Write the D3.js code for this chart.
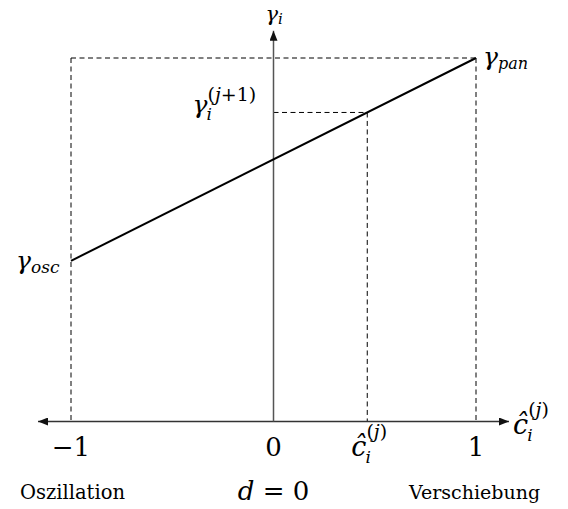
<!DOCTYPE html>
<html>
<head>
<meta charset="utf-8">
<script src="https://cdn.jsdelivr.net/npm/d3@7"></script>
<style>
  html, body { margin: 0; padding: 0; background: #fff; }
  svg { display: block; }
</style>
</head>
<body>
<svg id="chart" width="568" height="509"></svg>
<script>
// Normalised shift value on the horizontal axis
const xTicks = [-1, 0, 1];
const xTickLabels = ["\u22121", "0", "1"];
const xAxisExtent = [-1.163, 1.163];

// Linear rule for gamma: value at -1 (oscillation) and +1 (panning)
const gammaOsc = 0.442;
const gammaPan = 1.0;
const yAxisTop = 1.075;

// Current estimate and resulting gamma
const cHat = 0.463;

const FONT = "DejaVu Serif";

const svg = d3.select("#chart")
  .attr("font-family", FONT);
const x = d3.scaleLinear().domain([-1, 1]).range([71, 476]);
const y = d3.scaleLinear().domain([0, 1]).range([421.5, 58]);

const gammaAt = c => gammaOsc + (gammaPan - gammaOsc) * (c + 1) / 2;
const gammaNext = gammaAt(cHat);

function txt(parent, px, py, size, italic) {
  return parent.append("text")
    .attr("x", px).attr("y", py)
    .attr("font-family", FONT)
    .attr("font-size", size)
    .attr("font-style", italic ? "italic" : "normal")
    .attr("fill", "#000");
}

// arrow markers
const defs = svg.append("defs");
defs.append("marker")
  .attr("id", "arr")
  .attr("viewBox", "0 0 10 8")
  .attr("refX", 10).attr("refY", 4)
  .attr("markerWidth", 10).attr("markerHeight", 8)
  .attr("markerUnits", "userSpaceOnUse")
  .attr("orient", "auto-start-reverse")
  .append("path").attr("d", "M0,0 L10,4 L0,8 Z").attr("fill", "#111");

const dash = "5,3.5";
function dashed(x1, y1, x2, y2) {
  svg.append("line")
    .attr("x1", x1).attr("y1", y1).attr("x2", x2).attr("y2", y2)
    .attr("stroke", "#000").attr("stroke-width", 1).attr("stroke-dasharray", dash);
}

// dashed frame: top edge and the two sides at -1 and +1
dashed(x(-1), y(gammaPan), x(1), y(gammaPan));
xTicks.filter(v => v !== 0).forEach(v => dashed(x(v), y(gammaPan), x(v), y(0)));

// guides for the current estimate
dashed(x(0), y(gammaNext), x(cHat), y(gammaNext));
dashed(x(cHat), y(gammaNext), x(cHat), y(0));

// axes
svg.append("line")
  .attr("x1", x(xAxisExtent[0])).attr("x2", x(xAxisExtent[1]))
  .attr("y1", y(0)).attr("y2", y(0))
  .attr("stroke", "#333").attr("stroke-width", 1.5)
  .attr("marker-start", "url(#arr)").attr("marker-end", "url(#arr)");
svg.append("line")
  .attr("x1", x(0)).attr("x2", x(0))
  .attr("y1", y(0)).attr("y2", y(yAxisTop))
  .attr("stroke", "#555").attr("stroke-width", 1.5)
  .attr("marker-end", "url(#arr)");

// gamma rule
const line = d3.line().x(d => x(d)).y(d => y(gammaAt(d)));
svg.append("path")
  .datum([-1, 1])
  .attr("d", line)
  .attr("fill", "none").attr("stroke", "#000").attr("stroke-width", 2);

// composite math label: base, optional subscript and superscript
function mathLabel(px, py, base, sub, sup, opts = {}) {
  const g = svg.append("g");
  const t = txt(g, px, py, opts.size || 25, true).text(base);
  const w = t.node().getComputedTextLength() + (opts.gap || 0);
  if (sup) {
    const s = txt(g, px + w, py - (opts.supRise || 11), opts.supSize || 19, false);
    sup.forEach(([str, italic]) => s.append("tspan")
      .attr("font-style", italic ? "italic" : "normal").text(str));
  }
  if (sub) {
    txt(g, px + w - (opts.subShift || 0), py + (opts.subDrop || 5), opts.subSize || 17, true).text(sub);
  }
  return g;
}

const supJ = [["(", false], ["j", true], [")", false]];
const supJ1 = [["(", false], ["j", true], ["+1)", false]];

// axis titles
mathLabel(x(0) - 8, 21, "\u03b3", "i", null, { size: 21, subDrop: 3, subSize: 15 });
mathLabel(x(xAxisExtent[1]) + 4, y(0) + 12, "\u0109", "i", supJ, { size: 27, supRise: 18, subDrop: 7, subShift: 1 });

// end-point and current-value labels
mathLabel(x(1) + 7, y(gammaPan) + 7, "\u03b3", "pan", null, { subDrop: 4, subSize: 16 });
mathLabel(x(-1) - 55, y(gammaAt(-1)) + 8, "\u03b3", "osc", null, { subDrop: 4 });
mathLabel(x(0) - 81, y(gammaNext) + 1, "\u03b3", "i", supJ1, { supRise: 12, subDrop: 7, subShift: 1 });

// tick labels
svg.selectAll("text.tick")
  .data(xTicks)
  .join("text")
  .attr("class", "tick")
  .attr("x", d => x(d))
  .attr("y", 456)
  .attr("text-anchor", "middle")
  .attr("font-family", FONT)
  .attr("font-size", 26)
  .text((d, i) => xTickLabels[i]);
mathLabel(x(cHat) - 16, 456, "\u0109", "i", supJ, { size: 27, supRise: 18, subDrop: 7, subShift: 1 });

// regime captions
txt(svg, 20, 499, 19.5, false).text("Oszillation");
txt(svg, 409, 499, 19, false).text("Verschiebung");
const dl = txt(svg, x(0), 500, 26, false).attr("text-anchor", "middle");
dl.append("tspan").attr("font-style", "italic").text("d");
dl.append("tspan").text(" = 0");
</script>
</body>
</html>
